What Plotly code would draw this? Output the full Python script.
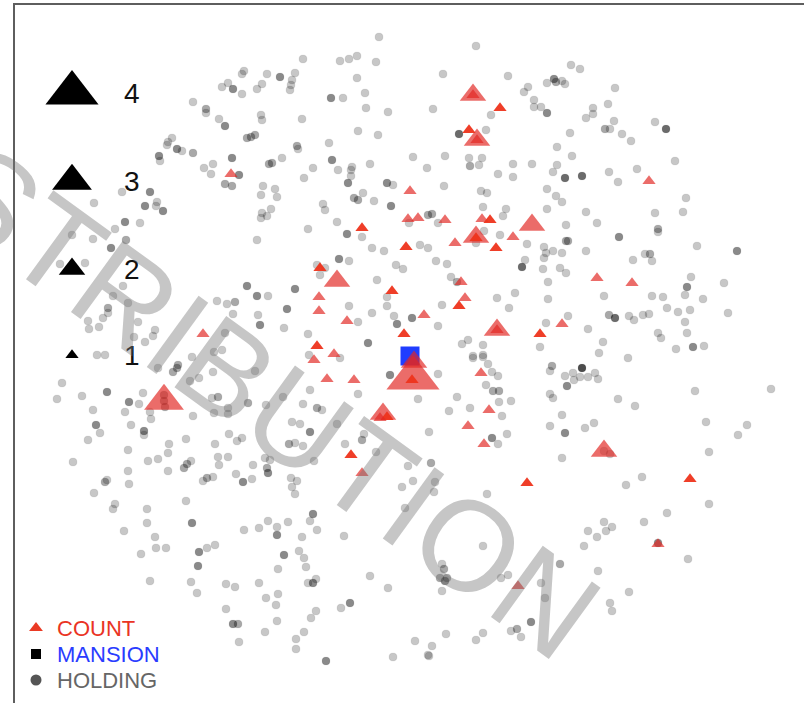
import plotly.graph_objects as go

# ---------------- data ----------------
# HOLDING points: position and overlap count (darker dots = overlapping holdings)
hold_x = [
    # upper left
    222,228,233,193,206,206,219,225,172,168, 167,177,182,193,159,160,232,204,213,211,
    225,232,122,150,145,157,156,163,94,125, 140,72,93,115,126,111,60,85,123,113,
    128,108,108,103,88,89,99,138,134,145, 155,153,97,105,217,227,235,233,225,214,
    222,192,
    # upper middle
    379,303,340,349,357,376,244,242,267,280, 295,292,291,290,262,257,242,357,331,343,
    365,366,388,302,261,262,358,378,247,251, 255,329,297,298,413,282,269,272,332,313,
    338,352,351,351,370,427,239,304,348,387, 393,263,275,277,261,354,358,363,374,391,
    323,325,271,262,267,261,409,428,337,308, 257,347,362,372,384,420,428,317,325,339,
    349,320,396,403,377,247,257,268,295,258, 287,260,284,349,387,387,358,372,394,412,
    397,308,368,309,
    # upper right-middle
    476,443,508,491,433,528,524,547,554,556, 562,565,571,580,534,534,541,547,593,593,
    586,608,615,614,605,610,570,459,486,557, 572,445,469,470,479,482,498,513,513,532,
    557,553,565,582,609,618,444,481,487,547, 556,562,506,503,483,547,586,597,566,432,
    438,484,500,476,527,544,546,544,553,562, 566,568,586,619,525,522,436,447,543,560,
    566,451,457,548,515,497,548,442,509,604, 438,546,568,588,609,615,603,599,462,468,
    483,483,473,540,
    # upper right
    655,666,622,631,675,637,686,655,683,658, 658,697,737,645,650,652,633,691,687,685,
    703,724,652,663,667,678,690,685,728,629, 634,643,649,658,661,687,676,693,704,628,
    # lower left
    62,57,82,107,93,129,125,139,143,158, 177,173,178,190,199,213,164,164,165,150,
    151,96,100,88,131,144,144,193,212,218, 214,228,228,186,169,168,128,73,148,158,
    184,187,191,168,128,215,229,237,218,228, 219,236,203,207,213,105,107,129,94,115,
    113,147,186,192,147,124,155,156,166,141, 199,207,215,198,150,191,197,226,235,226,
    233,239,
    # lower middle
    255,340,248,266,283,303,310,358,390,418, 317,322,292,300,310,337,364,362,345,376,
    242,289,295,303,314,265,270,267,268,253, 243,252,291,297,292,295,408,402,413,405,
    313,310,317,288,268,259,244,277,277,302, 344,284,299,304,306,278,259,316,313,308,
    370,388,266,278,276,350,341,316,311,277, 238,265,304,296,296,326,415,393,428,
    # lower right-middle
    438,473,483,488,492,498,486,493,499,457, 449,470,499,511,502,492,498,507,429,552,
    550,582,565,573,574,580,588,595,598,567, 550,553,618,562,550,565,585,594,562,604,
    610,431,435,434,487,604,612,606,597,588, 584,483,598,560,442,444,440,445,447,442,
    501,508,541,545,610,612,531,511,517,521, 446,476,483,432,429,
    # lower right
    695,771,635,706,747,738,709,642,626,709, 667,644,658,688,629,
]
hold_y = [
    87,83,89,102,109,113,119,126,138,142, 145,149,151,153,156,161,158,168,164,174,
    184,186,192,192,206,202,206,211,203,222, 223,235,239,229,240,248,264,263,286,296,
    303,308,313,318,321,329,327,322,337,342, 330,336,355,355,301,304,302,314,333,352,
    350,357,
    37,59,61,59,56,62,71,74,74,77, 73,80,85,90,84,89,94,78,98,98,
    93,108,112,119,115,120,131,135,138,137, 135,143,146,149,157,158,164,163,160,168,
    170,167,170,176,164,168,175,178,183,183, 185,186,189,197,195,198,200,193,201,206,
    204,210,209,213,216,218,223,215,222,229, 240,234,237,248,251,245,248,265,268,259,
    261,275,265,269,280,286,296,296,289,315, 309,325,328,306,297,306,322,313,316,318,
    324,334,343,355,
    46,74,76,115,109,87,92,83,79,82, 81,84,65,69,100,107,107,113,108,114,
    118,104,88,121,129,129,133,134,130,147, 156,156,158,166,165,158,174,164,177,164,
    165,172,178,176,172,182,186,191,193,189, 196,202,209,216,207,209,212,223,225,214,
    223,231,235,243,244,247,253,258,251,253, 241,241,251,237,260,267,261,264,269,268,
    273,277,282,282,293,298,299,305,308,296, 326,323,316,329,315,318,342,353,344,340,
    345,355,356,347,
    122,129,134,141,161,169,198,213,212,229, 232,246,251,254,254,261,260,277,287,295,
    299,283,296,297,308,312,310,322,313,316, 320,315,314,333,338,333,349,347,346,358,
    383,399,396,392,410,402,412,404,393,368, 368,372,365,381,378,372,395,401,407,412,
    419,425,433,440,425,431,435,416,398,397, 413,408,414,439,444,453,450,462,461,459,
    468,464,461,471,471,444,434,441,457,457, 465,474,481,478,477,482,480,484,493,504,
    509,509,501,523,523,531,537,548,548,554, 552,548,545,566,581,582,593,584,587,609,
    624,642,
    371,358,403,405,397,404,390,394,375,399, 408,410,422,424,432,424,434,440,444,452,
    438,444,443,446,461,458,460,468,473,465, 482,479,478,481,487,494,466,487,481,508,
    514,521,530,522,521,528,530,527,535,537, 536,555,551,558,567,569,583,579,583,583,
    576,588,598,594,605,603,608,611,618,621, 624,632,632,639,649,661,641,657,655,
    374,358,357,364,372,376,385,391,391,397, 411,408,402,401,416,438,444,434,432,366,
    371,368,376,373,380,377,377,373,379,386, 394,398,399,415,426,433,428,423,458,451,
    454,463,482,492,494,522,527,531,537,531, 546,546,571,564,564,569,578,581,578,591,
    578,575,583,598,603,611,622,631,629,637, 634,640,633,646,656,
    391,389,406,422,425,435,452,477,485,504, 513,522,543,559,592,
]
hold_n = [
    1,1,3,1,2,1,1,3,1,1, 1,3,1,2,3,1,3,1,1,1,
    2,2,1,3,3,1,1,3,1,3, 1,1,1,1,2,3,1,1,1,1,
    1,2,1,1,1,1,1,1,1,1, 1,1,1,1,1,1,2,1,1,1,
    1,1,
    1,1,1,1,1,1,1,1,1,3, 1,1,1,1,1,1,1,1,3,1,
    1,1,1,1,1,1,1,1,2,2, 2,1,2,1,1,1,2,2,3,1,
    1,1,1,1,1,1,3,1,3,3, 1,1,1,1,1,2,2,1,1,3,
    1,1,1,1,1,1,1,2,1,1, 1,3,1,1,1,1,1,1,1,3,
    1,1,1,1,1,3,3,1,3,1, 3,3,1,1,1,1,1,1,1,3,
    3,1,3,1,
    1,1,1,1,1,1,1,1,3,2, 1,1,1,1,1,1,1,3,1,1,
    1,1,1,1,2,1,1,4,1,1, 1,1,1,2,1,1,1,1,1,1,
    1,1,4,4,1,1,1,1,1,1, 1,1,1,1,1,1,1,1,1,2,
    1,1,1,1,1,1,1,1,1,1, 2,2,1,3,1,4,1,1,1,1,
    1,1,2,1,1,1,1,1,1,1, 1,1,1,1,2,4,1,1,1,1,
    1,1,1,1,
    1,4,1,1,1,1,1,1,1,2, 1,1,3,1,2,1,1,1,3,1,
    1,1,1,1,1,1,1,1,1,1, 1,1,1,1,1,1,1,3,1,1,
    1,1,1,3,1,3,1,1,1,1, 2,2,2,1,1,1,2,2,2,1,
    1,3,1,1,1,3,1,1,1,2, 1,1,1,1,1,1,1,1,1,1,
    2,2,1,1,1,1,1,1,1,1, 1,1,1,2,1,2,1,1,1,1,
    1,1,1,3,1,1,1,1,1,1, 3,1,1,3,1,1,1,1,1,1,
    3,1,
    1,1,2,1,1,1,1,1,3,1, 2,1,1,1,3,1,1,2,1,1,
    1,2,1,1,1,1,1,2,3,1, 3,1,1,1,1,1,1,1,1,1,
    3,1,1,1,1,1,1,1,3,1, 1,3,1,1,1,1,1,1,3,1,
    1,1,1,1,1,3,1,1,1,1, 2,1,1,1,1,3,1,1,1,
    1,1,1,1,1,1,1,2,2,1, 1,1,1,1,1,3,1,1,1,2,
    1,5,1,1,1,1,1,1,1,3, 1,1,1,1,1,3,1,1,1,1,
    1,2,1,1,1,1,1,1,1,1, 1,1,1,2,1,2,2,3,2,1,
    1,1,1,1,1,1,3,1,2,1, 1,1,1,1,1,
    1,1,1,1,1,1,1,1,1,1, 1,1,3,1,1,
]

# COUNT points: position, count (triangle size 1-4), overlapping records (1 or 2)
count_x = [413,164, 414,604,497,532,476,477,473,383,337,
           412,497,476,477,473,387,380,
           231,203,500,469,410,408,418,445,362,406, 482,490,455,513,496,320,392,319,319,347,
           424,404,317,334,314,461,465,459,540,562, 597,649,632,327,354,481,489,468,484,351,
           362,527,690,658,518]
count_y = [378,401, 362,451,330,225,237,140,95,414,281,
           380,330,238,140,95,417,418,
           174,334,108,130,191,219,218,220,228,247, 219,220,243,237,248,268,291,297,311,321,
           315,334,346,354,360,282,298,306,334,324, 278,181,283,379,380,373,410,426,444,455,
           473,483,479,544,586]
count_n = [4,3, 2,2,2,2,2,2,2,2,2,
           1,1,1,1,1,1,1,
           1,1,1,1,1,1,1,1,1,1, 1,1,1,1,1,1,1,1,1,1,
           1,1,1,1,1,1,1,1,1,1, 1,1,1,1,1,1,1,1,1,1,
           1,1,1,1,1]
count_stack = [1,1, 1,1,1,1,1,1,1,1,1,
               2,1,2,1,1,2,1,
               1,1,2,2,1,1,1,1,2,2, 1,2,1,1,2,2,2,1,1,1,
               1,2,2,1,1,1,1,2,2,1, 1,1,1,1,1,1,1,1,1,2,
               1,2,2,1,1]

# MANSION
mansion_x = [410]
mansion_y = [356]

# keys
size_key_counts = [4, 3, 2, 1]
size_key_labels = ["4", "3", "2", "1"]
legend_names = ["COUNT", "MANSION", "HOLDING"]
watermark_text = "DISTRIBUTION"

assert len(hold_x) == len(hold_y) == len(hold_n)
assert len(count_x) == len(count_y) == len(count_n) == len(count_stack)

# ---------------- styles ----------------
W, H = 804, 703
FONT = "Liberation Sans, Arial, Helvetica, sans-serif"
TRI_SCALE = 11.5
RED_LIGHT = "rgba(226,38,34,0.68)"
RED_SOLID = "rgba(238,52,28,0.95)"
BLUE = "#1f3dff"

fig = go.Figure()

# holdings
hold_colors = ["rgba(0,0,0,%.3f)" % min(0.22 + 0.12 * (n - 1), 0.8) for n in hold_n]
fig.add_trace(go.Scatter(
    x=hold_x, y=hold_y, mode="markers",
    marker=dict(symbol="circle", size=8, color=hold_colors, opacity=1,
                line=dict(width=1.2, color="rgba(0,0,0,0.06)")),
    hoverinfo="skip", showlegend=False))

# mansion
fig.add_trace(go.Scatter(
    x=mansion_x, y=mansion_y, mode="markers",
    marker=dict(symbol="square", size=19, color=BLUE, opacity=1, line=dict(width=0)),
    hoverinfo="skip", showlegend=False))

# counts (largest first so small ones sit on top)
order = sorted(range(len(count_x)), key=lambda i: -count_n[i])
fig.add_trace(go.Scatter(
    x=[count_x[i] for i in order], y=[count_y[i] for i in order], mode="markers",
    marker=dict(symbol="triangle-up", opacity=1,
                size=[count_n[i] * TRI_SCALE for i in order],
                color=[RED_SOLID if count_stack[i] > 1 else RED_LIGHT for i in order],
                line=dict(width=0)),
    hoverinfo="skip", showlegend=False))

# size key (top-left)
KEY_X = 72
KEY_Y = [93, 181, 269, 355]
fig.add_trace(go.Scatter(
    x=[KEY_X] * len(size_key_counts), y=KEY_Y, mode="markers",
    marker=dict(symbol="triangle-up", size=[c * TRI_SCALE for c in size_key_counts],
                color="#000000", opacity=1, line=dict(width=0)),
    hoverinfo="skip", showlegend=False))

annotations = []
for lab, yy in zip(size_key_labels, KEY_Y):
    annotations.append(dict(x=132, y=yy, xref="x", yref="y", text=lab, showarrow=False,
                            font=dict(family=FONT, size=28, color="#111111"),
                            xanchor="center", yanchor="middle"))

# category key (bottom-left)
LEG_Y = [628, 654, 680]
fig.add_trace(go.Scatter(
    x=[36, 36, 36], y=LEG_Y, mode="markers",
    marker=dict(symbol=["triangle-up", "square", "circle"], size=[12, 10, 11],
                color=["#ea3a24", "#000000", "#555555"], opacity=1, line=dict(width=0)),
    hoverinfo="skip", showlegend=False))
leg_colors = ["#ea3424", "#2a3cff", "#666666"]
for name, yy, col in zip(legend_names, LEG_Y, leg_colors):
    annotations.append(dict(x=55, y=yy, xref="x", yref="y", text=name, showarrow=False,
                            font=dict(family=FONT, size=22, color=col),
                            xanchor="left", yanchor="middle"))

# watermark
annotations.append(dict(x=218, y=363, xref="x", yref="y", text=watermark_text,
                        showarrow=False, textangle=36,
                        font=dict(family=FONT, size=128,
                                  color="rgba(120,120,120,0.42)"),
                        xanchor="center", yanchor="middle"))

axis_common = dict(showgrid=False, zeroline=False, showticklabels=False, ticks="",
                   showline=True, linecolor="#5e5e5e", linewidth=1.5, fixedrange=True)
fig.update_layout(
    width=W, height=H,
    margin=dict(l=15, r=0, t=5, b=0, pad=0),
    paper_bgcolor="white", plot_bgcolor="white",
    xaxis=dict(range=[15, W], side="top", **axis_common),
    yaxis=dict(range=[H, 5], side="left", **axis_common),
    annotations=annotations,
    showlegend=False,
    font=dict(family=FONT),
)

fig.write_html("out.html", config={"displayModeBar": False},
               post_script="document.body.style.margin='0';document.body.style.padding='0';")
